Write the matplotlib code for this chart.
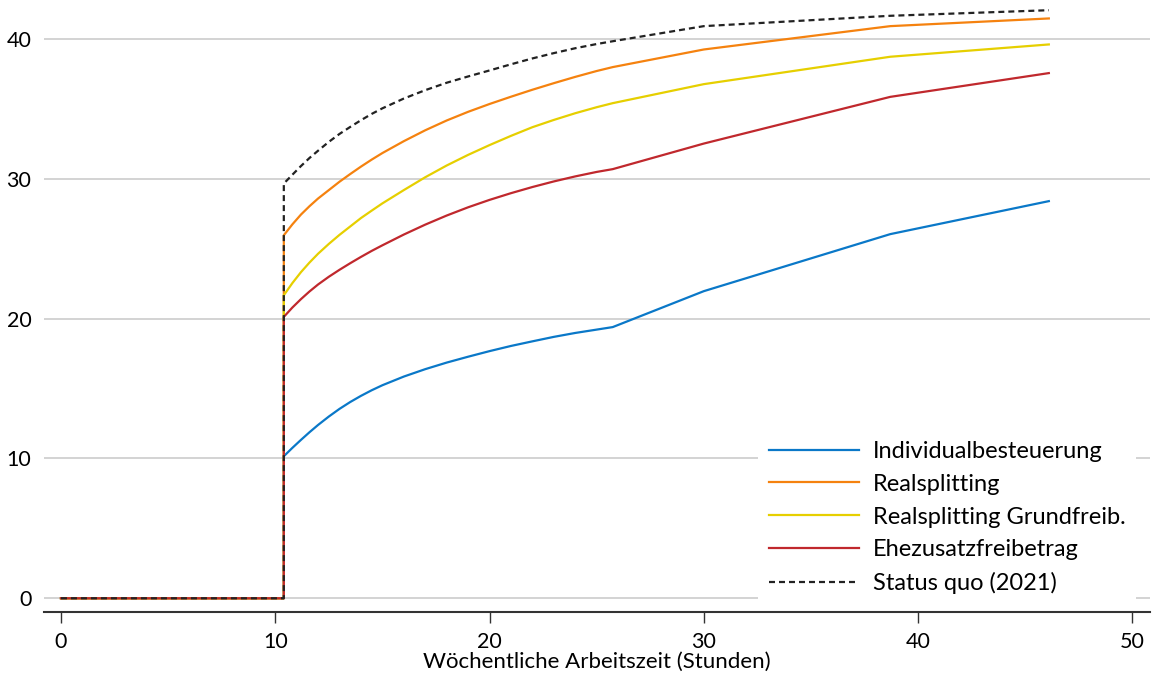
import matplotlib
matplotlib.use("Agg")
import matplotlib.pyplot as plt

# hours per week
hours = [0, 10.4, 10.4, 10.8, 11.2, 11.6, 12.0, 12.5, 13.0, 13.5, 14.0, 14.5, 15.0,
         16.0, 17.0, 18.0, 19.0, 20.0, 21.0, 22.0, 23.0, 24.0, 25.0, 25.75,
         30.0, 38.7, 46.1]

individual = [0, 0, 10.16, 10.76, 11.33, 11.88, 12.4, 13.0, 13.55, 14.04, 14.48, 14.88, 15.24,
              15.86, 16.39, 16.86, 17.28, 17.68, 18.05, 18.38, 18.7, 18.98, 19.22, 19.4,
              21.97, 26.05, 28.41]
realsplitting = [0, 0, 25.97, 26.75, 27.45, 28.05, 28.6, 29.2, 29.8, 30.35, 30.88, 31.38, 31.85,
                 32.7, 33.48, 34.18, 34.8, 35.36, 35.88, 36.38, 36.85, 37.3, 37.72, 38.0,
                 39.26, 40.93, 41.48]
realsplitting_gf = [0, 0, 21.68, 22.55, 23.33, 24.02, 24.65, 25.35, 26.0, 26.6, 27.2, 27.73, 28.25,
                    29.2, 30.12, 30.96, 31.72, 32.42, 33.08, 33.7, 34.22, 34.7, 35.13, 35.42,
                    36.78, 38.74, 39.62]
ehezusatz = [0, 0, 20.13, 20.8, 21.4, 21.95, 22.45, 23.0, 23.5, 23.97, 24.42, 24.85, 25.25,
             26.02, 26.73, 27.38, 27.97, 28.5, 28.98, 29.42, 29.82, 30.18, 30.5, 30.7,
             32.53, 35.87, 37.57]
status_quo = [0, 0, 29.67, 30.3, 30.92, 31.5, 32.02, 32.65, 33.22, 33.72, 34.2, 34.65, 35.05,
              35.75, 36.35, 36.88, 37.33, 37.76, 38.2, 38.62, 39.0, 39.35, 39.65, 39.85,
              40.93, 41.67, 42.07]

labels = ["Individualbesteuerung", "Realsplitting", "Realsplitting Grundfreib.",
          "Ehezusatzfreibetrag", "Status quo (2021)"]
colors = ["#0a78c8", "#f5820f", "#e6cf00", "#c0282d", "#222222"]

xticks = [0, 10, 20, 30, 40, 50]
yticks = [0, 10, 20, 30, 40]
xlabel = "Wöchentliche Arbeitszeit (Stunden)"

plt.rcParams['font.family'] = ['Lato', 'DejaVu Sans']

fig = plt.figure(figsize=(11.53, 6.78), dpi=100)
ax = fig.add_axes([0.038, 0.097, 0.959, 0.903])

series = [individual, realsplitting, realsplitting_gf, ehezusatz]
for s, lab, c in zip(series, labels[:4], colors[:4]):
    ax.plot(hours, s, color=c, lw=1.6, label=lab, solid_joinstyle='round')
ax.plot(hours, status_quo, color=colors[4], lw=1.6, ls=(0, (2.7, 1.8)), label=labels[4])

ax.set_xlim(-0.8, 50.8)
ax.set_ylim(-1.0, 42.8)
ax.set_xticks(xticks)
ax.set_yticks(yticks)
ax.grid(axis='y', color='#cccccc', lw=1.2)
ax.set_axisbelow(True)
for sp in ['top', 'right', 'left']:
    ax.spines[sp].set_visible(False)
ax.spines['bottom'].set_color('#333333')
ax.spines['bottom'].set_linewidth(1.5)
ax.tick_params(axis='x', length=8, width=1.0, color='#333333', labelsize=15.5, pad=6)
ax.tick_params(axis='y', length=0, labelsize=15.5, pad=9)
ax.set_xlabel(xlabel, fontsize=16, labelpad=0)

leg = ax.legend(loc='lower right', bbox_to_anchor=(0.988, 0.012), borderaxespad=0.0,
                fontsize=17, frameon=True, framealpha=1.0, edgecolor='none',
                facecolor='white', fancybox=False, handlelength=3.8, handletextpad=0.6,
                labelspacing=0.5, borderpad=0.45)

fig.savefig("out.png", dpi=100)
